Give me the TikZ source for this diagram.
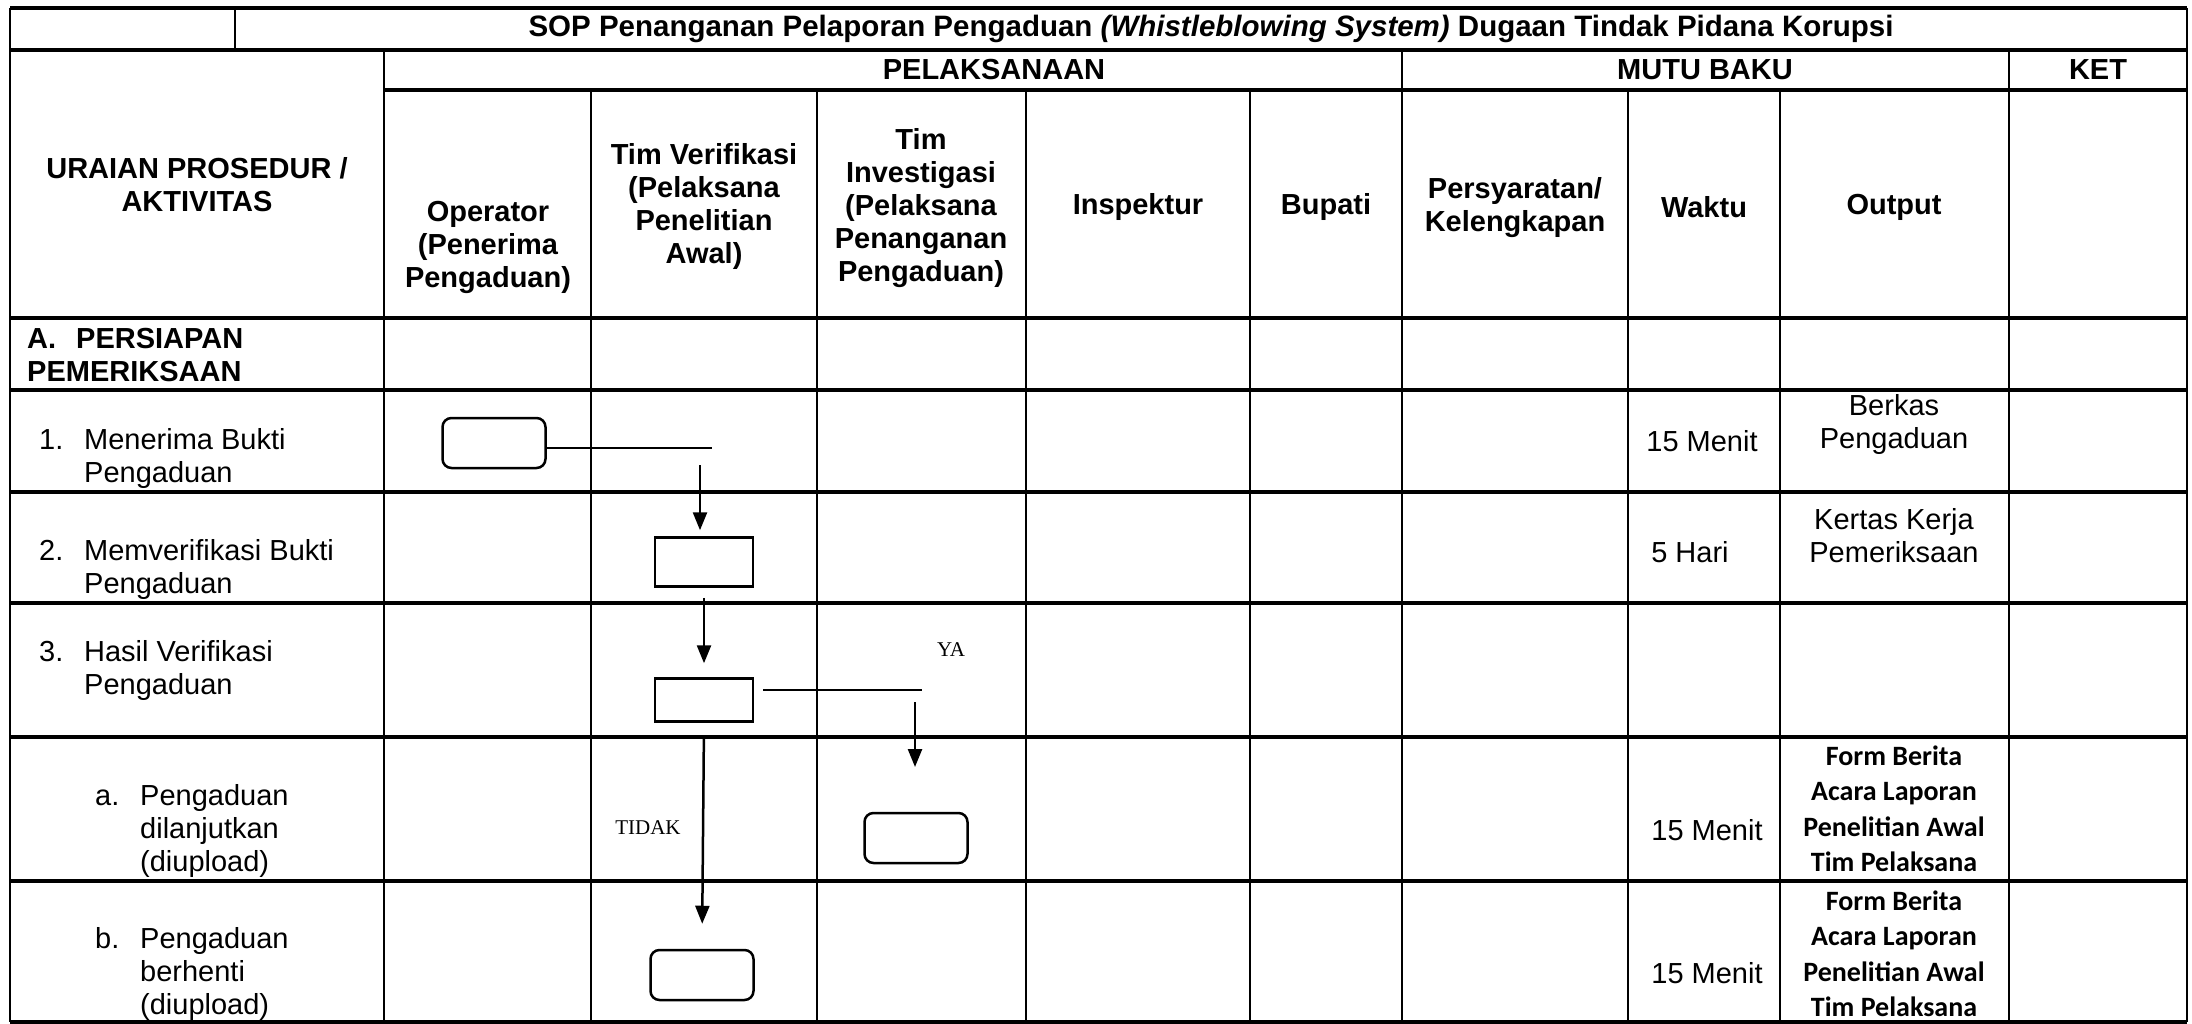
\documentclass[tikz,border=0pt]{standalone}
\usepackage{fontspec}
\setmainfont{Liberation Sans}
\newfontfamily\calibrifont{Carlito}
\newfontfamily\timesfont{Liberation Serif}
\usepackage{tikz}
\usetikzlibrary{arrows.meta}
\usetikzlibrary{positioning}
\usetikzlibrary{calc}

\tikzset{
  vline/.style={line width=2pt},
  hrule/.style={line width=3.5pt},
  hd/.style={font=\bfseries\fontsize{29}{33}\selectfont, align=center, inner sep=0pt},
  txt/.style={font=\fontsize{29}{33}\selectfont, align=center, inner sep=0pt},
  item/.style={font=\fontsize{29}{33}\selectfont, anchor=west, inner sep=0pt},
  outp/.style={font=\calibrifont\bfseries\fontsize{28}{35.5}\selectfont, align=center, inner sep=0pt},
  lbl/.style={font=\timesfont\fontsize{21}{25}\selectfont, inner sep=0pt},
  proc/.style={draw, line width=2.5pt, minimum width=98pt, minimum height=49pt, inner sep=0pt},
  term/.style={proc, rounded corners=9pt, minimum width=103pt, minimum height=50pt},
  flow/.style={line width=2.5pt},
  arr/.style={flow, -{Triangle[length=18pt,width=14pt]}}
}

\begin{document}
\begin{tikzpicture}[x=1pt,y=-1pt]
\useasboundingbox (0,0) rectangle (2192,1024);
\foreach \y in {8,50,318,390,492,603,737,881,1022}
  \draw[hrule] (10,\y) -- (2187,\y);
\draw[hrule] (384,90) -- (2187,90);
\foreach \x in {10,2187}
  \draw[vline] (\x,8) -- (\x,1022);
\draw[vline] (235,8) -- (235,50);
\foreach \x in {384,1402,2009}
  \draw[vline] (\x,50) -- (\x,1022);
\foreach \x in {591,817,1026,1250,1628,1780}
  \draw[vline] (\x,90) -- (\x,1022);

\node[hd, font=\bfseries\fontsize{29.5}{33}\selectfont] (title) at (1211,29)
  {SOP Penanganan Pelaporan Pengaduan \textit{(Whistleblowing System)} Dugaan Tindak Pidana Korupsi};
\node[hd] (pel) at (994,70) {PELAKSANAAN};
\node[hd] (mutu) at (1705,70) {MUTU BAKU};
\node[hd] (ket) at (2098,70) {KET};
\node[hd] (uraian) at (197,185) {URAIAN PROSEDUR /\\AKTIVITAS};
\node[hd] (operator) at (488,247) {Operator\\(Penerima\\Pengaduan)};
\node[hd] (timver) at (704,207) {Tim Verifikasi\\(Pelaksana\\Penelitian\\Awal)};
\node[hd] (timinv) at (921,208) {Tim\\Investigasi\\(Pelaksana\\Penanganan\\Pengaduan)};
\node[hd] (inspektur) at (1138,207) {Inspektur};
\node[hd] (bupati) at (1326,207) {Bupati};
\node[hd] (syarat) at (1515,208) {Persyaratan/\\Kelengkapan};
\node[hd] (waktu) at (1704,207) {Waktu};
\node[hd] (output) at (1894,207) {Output};

\node[hd, align=left, anchor=west] (secA) at (27,355) {A.\hspace{20pt}PERSIAPAN\\PEMERIKSAAN};
\node[item] (i1) at (39,459)
  {\begin{tabular}{@{}p{45pt}@{}l@{}}1.&Menerima Bukti\\&Pengaduan\end{tabular}};
\node[item] (i2) at (39,570)
  {\begin{tabular}{@{}p{45pt}@{}l@{}}2.&Memverifikasi Bukti\\&Pengaduan\end{tabular}};
\node[item] (i3) at (39,671)
  {\begin{tabular}{@{}p{45pt}@{}l@{}}3.&Hasil Verifikasi\\&Pengaduan\end{tabular}};
\node[item] (ia) at (95,832)
  {\begin{tabular}{@{}p{45pt}@{}l@{}}a.&Pengaduan\\&dilanjutkan\\&(diupload)\end{tabular}};
\node[item] (ib) at (95,975)
  {\begin{tabular}{@{}p{45pt}@{}l@{}}b.&Pengaduan\\&berhenti\\&(diupload)\end{tabular}};

\node[txt] (w1) at (1702,441) {15 Menit};
\node[txt] (w2) at (1690,552) {5 Hari};
\node[txt] (wa) at (1707,830) {15 Menit};
\node[txt] (wb) at (1707,973) {15 Menit};
\node[txt] (o1) at (1894,425) {Berkas\\Pengaduan};
\node[txt] (o2) at (1894,536) {Kertas Kerja\\Pemeriksaan};
\node[outp] (oa) at (1894,809) {Form Berita\\Acara Laporan\\Penelitian Awal\\Tim Pelaksana};
\node[outp] (ob) at (1894,954) {Form Berita\\Acara Laporan\\Penelitian Awal\\Tim Pelaksana};

\node[term] (b1) at (494,443) {};
\node[proc] (b2) at (704,562) {};
\node[proc, minimum height=43pt] (b3) at (704,700) {};
\node[term] (ba) at (916,838) {};
\node[term] (bb) at (702,975) {};

\coordinate (j1) at (712,448);
\coordinate (k1) at (700,465);
\coordinate (j3) at (922,690);
\coordinate (k3) at (915,702);
\coordinate (e3) at (915,767);

\draw[flow] (b1.east |- j1) -- (j1);
\draw[arr, shorten >=6pt] (k1) -- (k1 |- b2.north);
\draw[arr, shorten <=10pt, shorten >=14pt] (b2.south) -- (b3.north);
\draw[flow, shorten <=9pt] (b3.east |- j3) -- (j3);
\draw[arr] (k3) -- (e3);
\draw[arr, shorten <=15pt, shorten >=25pt] (b3.south) -- (bb.north);
\node[lbl] (ya) at (951,650) {YA};
\node[lbl] (tidak) at (648,828) {TIDAK};
\end{tikzpicture}
\end{document}
